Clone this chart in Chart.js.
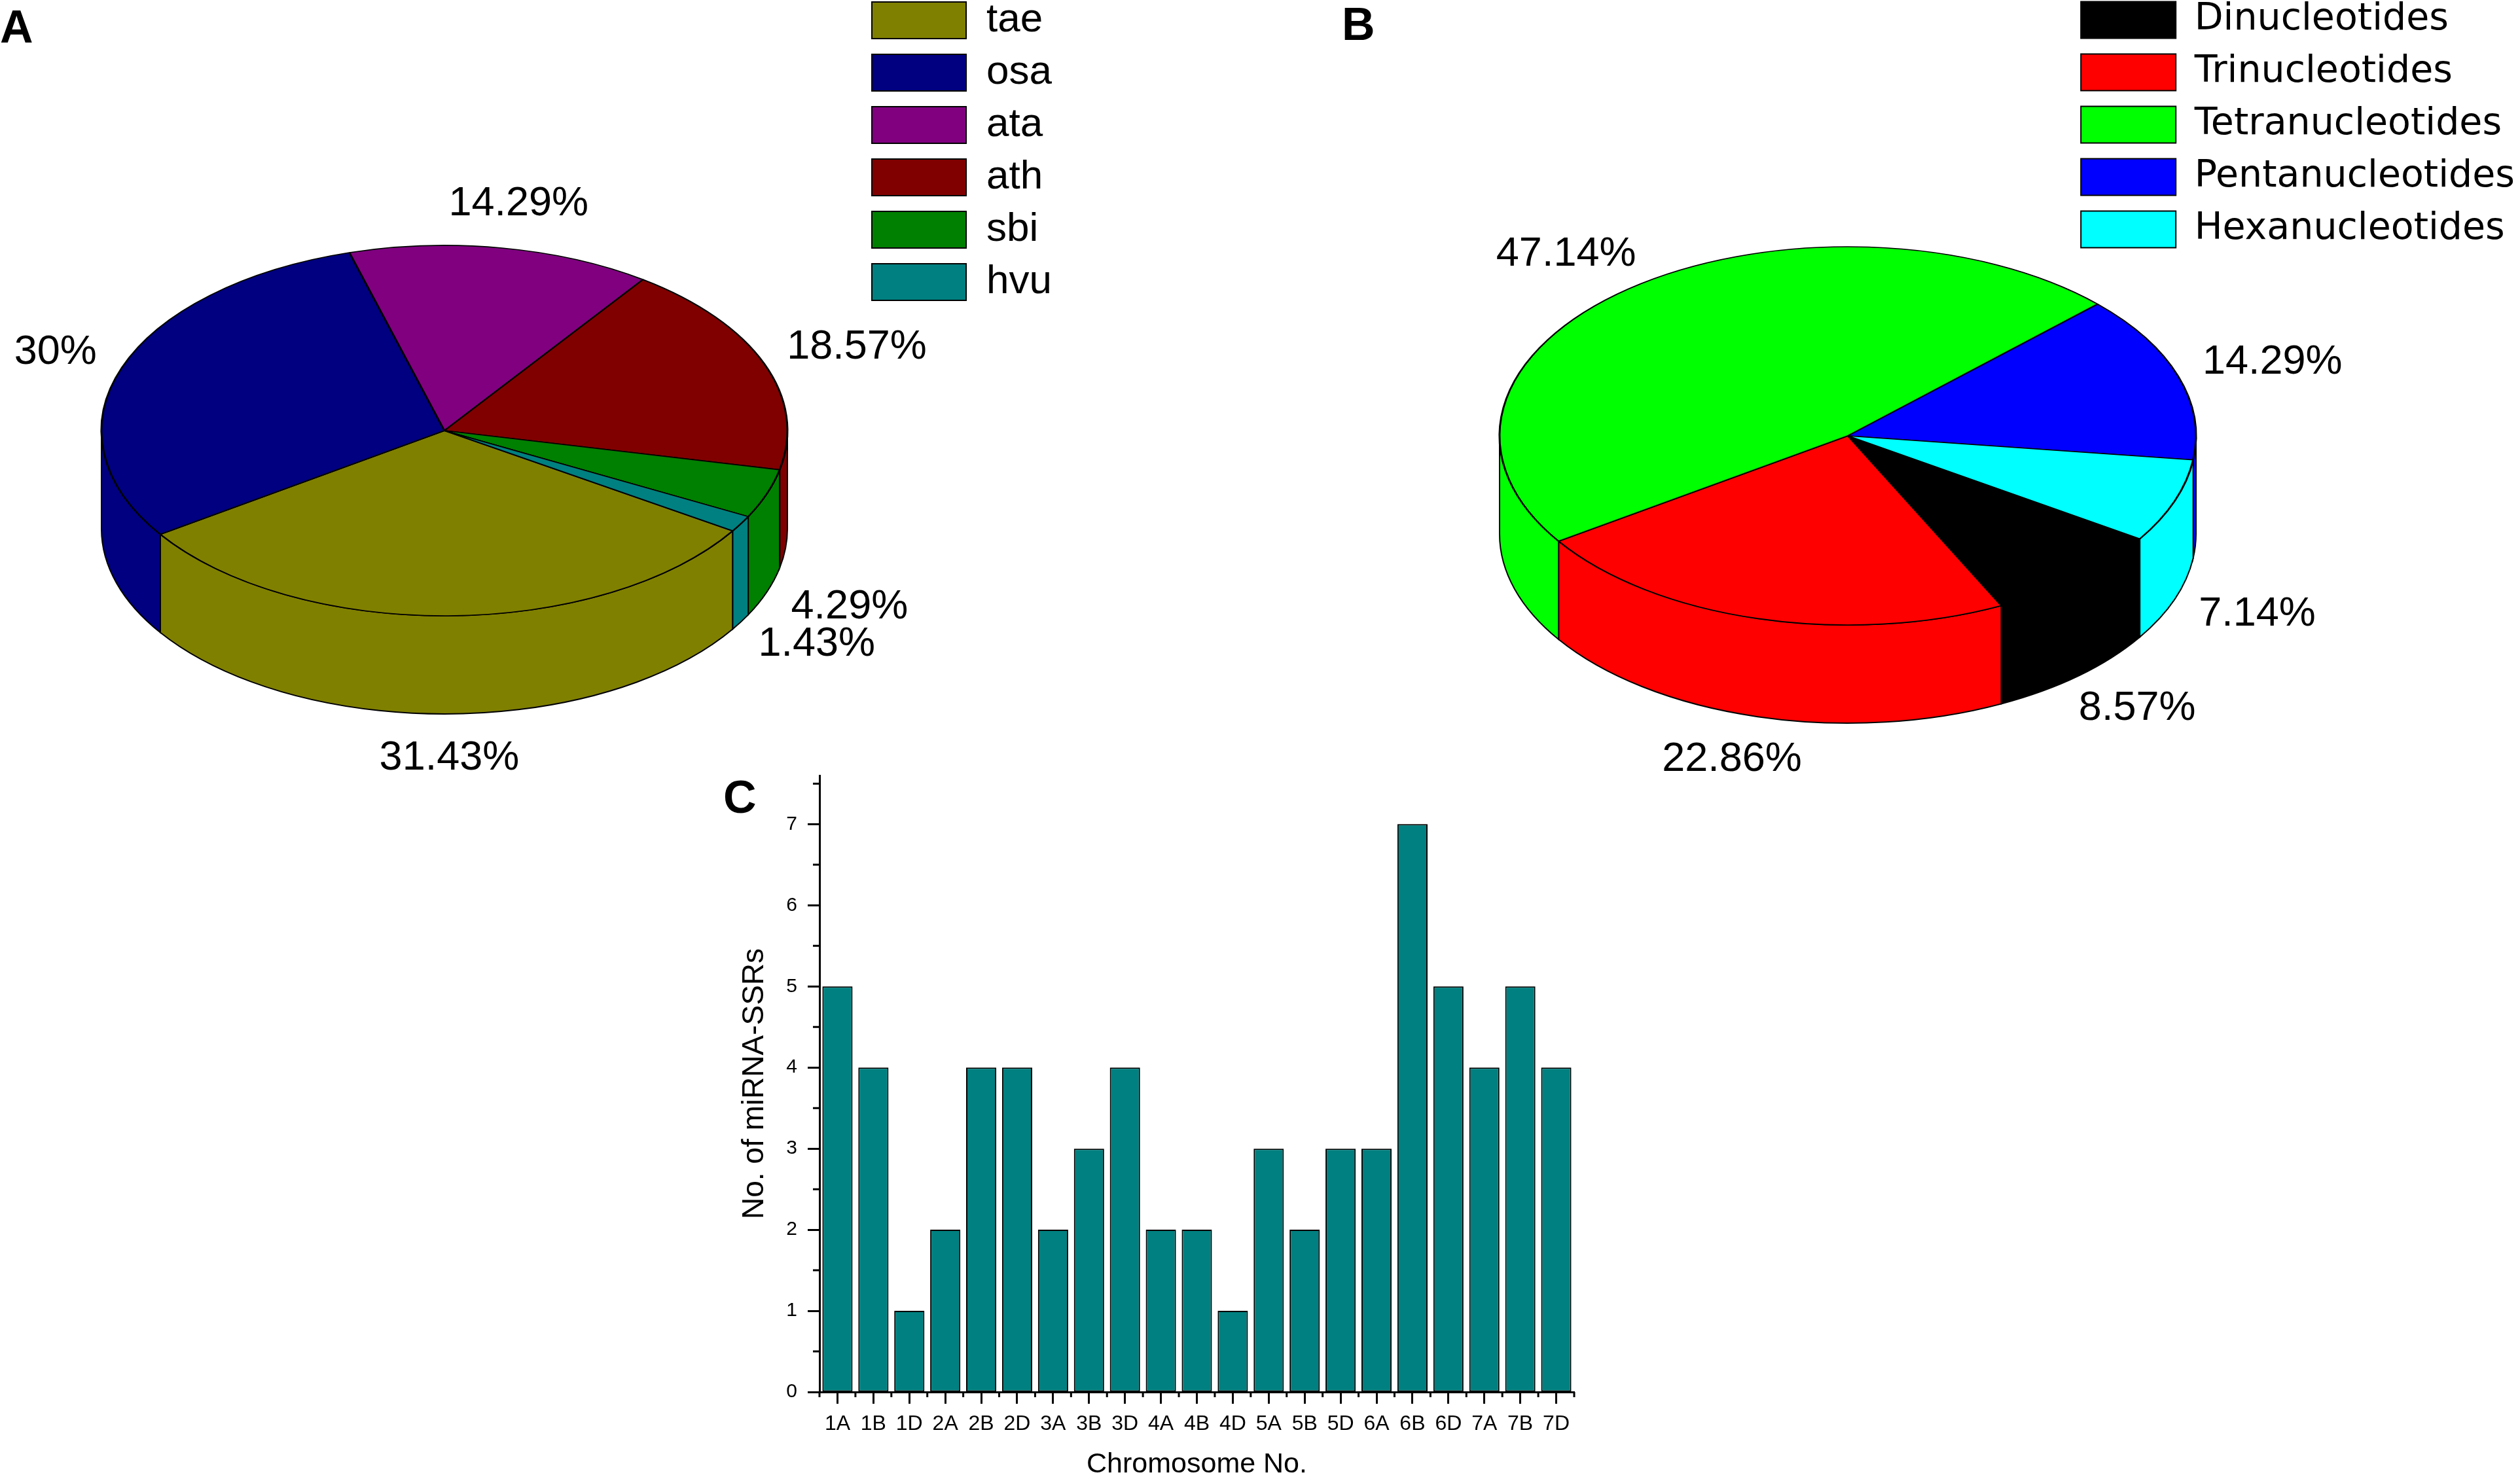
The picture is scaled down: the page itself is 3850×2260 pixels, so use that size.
<!DOCTYPE html>
<html>
<head>
<meta charset="utf-8">
<script src="https://cdn.jsdelivr.net/npm/chart.js@4.4.0/dist/chart.umd.min.js"></script>
<style>
  html, body { margin: 0; padding: 0; background: #fff; width: 3850px; height: 2260px; overflow: hidden; position: relative; font-family: "Liberation Sans", Arial, sans-serif; }
  canvas { position: absolute; }
  .tag { position: absolute; font-weight: bold; font-size: 70px; line-height: 1; color: #000; }
</style>
</head>
<body>
<div class="tag" style="left:0px;top:6px">A</div>
<div class="tag" style="left:2050px;top:2px">B</div>
<div class="tag" style="left:1105px;top:1183px">C</div>
<canvas id="pieA" width="1700" height="1260" style="left:0px;top:-18px"></canvas>
<canvas id="pieB" width="1920" height="1260" style="left:1940px;top:-21px"></canvas>
<canvas id="bar" width="1370" height="1110" style="left:1090px;top:1150px"></canvas>
<script>
// A: 種ごとの割合 (%)
const speciesLabels = ['tae', 'osa', 'ata', 'ath', 'sbi', 'hvu'];
const speciesValues = [31.43, 30, 14.29, 18.57, 4.29, 1.43];
const speciesColors = ['#808000', '#000080', '#800080', '#800000', '#008000', '#008080'];

// B: モチーフ種別の割合 (%)
const motifLabels = ['Dinucleotides', 'Trinucleotides', 'Tetranucleotides', 'Pentanucleotides', 'Hexanucleotides'];
const motifValues = [8.57, 22.86, 47.14, 14.29, 7.14];
const motifColors = ['#000000', '#ff0000', '#00ff00', '#0000ff', '#00ffff'];

// C: 染色体ごとの miRNA-SSR 数
const chromosomes = ['1A', '1B', '1D', '2A', '2B', '2D', '3A', '3B', '3D', '4A', '4B', '4D',
  '5A', '5B', '5D', '6A', '6B', '6D', '7A', '7B', '7D'];
const ssrCounts = [5, 4, 1, 2, 4, 4, 2, 3, 4, 2, 2, 1, 3, 2, 3, 3, 7, 5, 4, 5, 4];
const yTicks = [0, 1, 2, 3, 4, 5, 6, 7];

Chart.defaults.font.family = '"Liberation Sans", Arial, sans-serif';
Chart.defaults.color = '#000';

// 手前側(画面下半分)に見える角度範囲
function frontParts(s, e) {
  const parts = [];
  for (let k = -2; k <= 2; k++) {
    const lo = Math.max(s, 2 * Math.PI * k);
    const hi = Math.min(e, 2 * Math.PI * k + Math.PI);
    if (hi > lo) parts.push([lo, hi]);
  }
  return parts;
}

// 円グラフを傾けて厚みをつける
const pie3d = {
  id: 'pie3d',
  beforeDatasetsDraw(chart, args, opts) {
    const ctx = chart.ctx;
    const arcs = chart.getDatasetMeta(0).data;
    const rx = arcs[0].outerRadius;
    const {cx, cy, ry, depth} = opts;
    // 側面
    arcs.forEach(arc => {
      frontParts(arc.startAngle, arc.endAngle).forEach(([a, b]) => {
        ctx.beginPath();
        ctx.ellipse(cx, cy, rx, ry, 0, a, b);
        ctx.lineTo(cx + rx * Math.cos(b), cy + ry * Math.sin(b) + depth);
        ctx.ellipse(cx, cy + depth, rx, ry, 0, b, a, true);
        ctx.closePath();
        ctx.fillStyle = arc.options.backgroundColor;
        ctx.fill();
        ctx.lineWidth = 2;
        ctx.strokeStyle = '#000';
        ctx.stroke();
      });
    });
    // 上面は縦につぶして描画
    ctx.save();
    ctx.translate(cx, cy);
    ctx.scale(1, ry / rx);
    ctx.translate(-arcs[0].x, -arcs[0].y);
  },
  afterDatasetsDraw(chart, args, opts) {
    const ctx = chart.ctx;
    ctx.restore();
    // パーセント表示
    const arcs = chart.getDatasetMeta(0).data;
    const values = chart.data.datasets[0].data;
    const rx = arcs[0].outerRadius;
    const {cx, cy, ry, depth, gap} = opts;
    const textH = 46;
    ctx.save();
    ctx.fillStyle = '#000';
    ctx.font = '63px "Liberation Sans", Arial, sans-serif';
    ctx.textAlign = 'center';
    ctx.textBaseline = 'middle';
    arcs.forEach((arc, i) => {
      const text = values[i] + '%';
      const w = ctx.measureText(text).width;
      const mid = (arc.startAngle + arc.endAngle) / 2;
      const c = Math.cos(mid), s = Math.sin(mid);
      const x = cx + (rx + gap) * c + c * w / 2;
      const y = cy + (ry + gap) * s + (s > 0 ? depth : 0) + s * textH / 2;
      ctx.fillText(text, x, y);
    });
    ctx.restore();
  }
};

function thinBox(chart) {
  return Chart.overrides.doughnut.plugins.legend.labels.generateLabels(chart)
    .map(item => Object.assign(item, {lineWidth: 2}));
}

// A
new Chart(document.getElementById('pieA'), {
  type: 'pie',
  data: {
    labels: speciesLabels,
    datasets: [{
      data: speciesValues,
      backgroundColor: speciesColors,
      borderColor: '#000',
      borderWidth: 3,
      radius: 524,
      clip: false
    }]
  },
  options: {
    responsive: false,
    animation: false,
    events: [],
    devicePixelRatio: 1,
    rotation: 122.8,
    layout: {padding: {right: 83}},
    plugins: {
      legend: {
        position: 'right',
        align: 'start',
        labels: {
          boxWidth: 144, boxHeight: 56, padding: 18, color: '#000',
          font: {size: 62},
          generateLabels: thinBox
        }
      },
      tooltip: {enabled: false},
      pie3d: {cx: 679, cy: 676, ry: 283, depth: 150, gap: 45}
    }
  },
  plugins: [pie3d]
});

// B
new Chart(document.getElementById('pieB'), {
  type: 'pie',
  data: {
    labels: motifLabels,
    datasets: [{
      data: motifValues,
      backgroundColor: motifColors,
      borderColor: '#000',
      borderWidth: 3,
      radius: 532,
      clip: false
    }]
  },
  options: {
    responsive: false,
    animation: false,
    events: [],
    devicePixelRatio: 1,
    rotation: 123,
    layout: {padding: {right: 8}},
    plugins: {
      legend: {
        position: 'right',
        align: 'start',
        labels: {
          boxWidth: 145, boxHeight: 56, padding: 23, color: '#000',
          font: {family: '"DejaVu Sans", sans-serif', size: 57},
          generateLabels: thinBox
        }
      },
      tooltip: {enabled: false},
      pie3d: {cx: 883, cy: 687, ry: 289, depth: 150, gap: 45}
    }
  },
  plugins: [pie3d]
});

// 補助目盛り
const minorTicks = {
  id: 'minorTicks',
  afterDraw(chart) {
    const {ctx, chartArea, scales: {x, y}} = chart;
    ctx.save();
    ctx.strokeStyle = '#000';
    ctx.lineWidth = 3;
    ctx.beginPath();
    for (let v = 0.5; v < y.max; v += 1) {
      const py = y.getPixelForValue(v);
      ctx.moveTo(chartArea.left - 10, py);
      ctx.lineTo(chartArea.left, py);
    }
    for (let i = 0; i <= chromosomes.length; i++) {
      const px = x.getPixelForValue(i - 0.5);
      ctx.moveTo(px, chartArea.bottom);
      ctx.lineTo(px, chartArea.bottom + 8);
    }
    ctx.stroke();
    ctx.restore();
  }
};

// C
new Chart(document.getElementById('bar'), {
  type: 'bar',
  data: {
    labels: chromosomes,
    datasets: [{
      data: ssrCounts,
      backgroundColor: '#008080',
      borderColor: '#000',
      borderWidth: 2,
      borderSkipped: false,
      categoryPercentage: 1,
      barPercentage: 0.84
    }]
  },
  options: {
    responsive: false,
    animation: false,
    events: [],
    devicePixelRatio: 1,
    layout: {padding: {top: 35, right: 55, left: 0, bottom: 0}},
    plugins: {
      legend: {display: false},
      tooltip: {enabled: false}
    },
    scales: {
      x: {
        grid: {drawOnChartArea: false, offset: false, tickLength: 18, tickColor: '#000', tickWidth: 3},
        border: {color: '#000', width: 3},
        ticks: {color: '#000', font: {size: 32}, padding: 12, maxRotation: 0, autoSkip: false},
        title: {display: true, text: 'Chromosome No.', color: '#000', font: {size: 43, lineHeight: 1}, padding: {top: 0, bottom: 0}},
        afterFit(scale) { scale.height = 133; }
      },
      y: {
        min: 0,
        max: 7.6,
        afterBuildTicks(scale) { scale.ticks = yTicks.map(v => ({value: v})); },
        grid: {drawOnChartArea: false, tickLength: 18, tickColor: '#000', tickWidth: 3},
        border: {color: '#000', width: 3},
        ticks: {color: '#000', font: {size: 30}, padding: 16},
        title: {display: true, text: 'No. of miRNA-SSRs', color: '#000', font: {size: 46}, padding: {top: 36, bottom: 0}},
        afterFit(scale) { scale.width = 162; }
      }
    }
  },
  plugins: [minorTicks]
});
</script>
</body>
</html>
